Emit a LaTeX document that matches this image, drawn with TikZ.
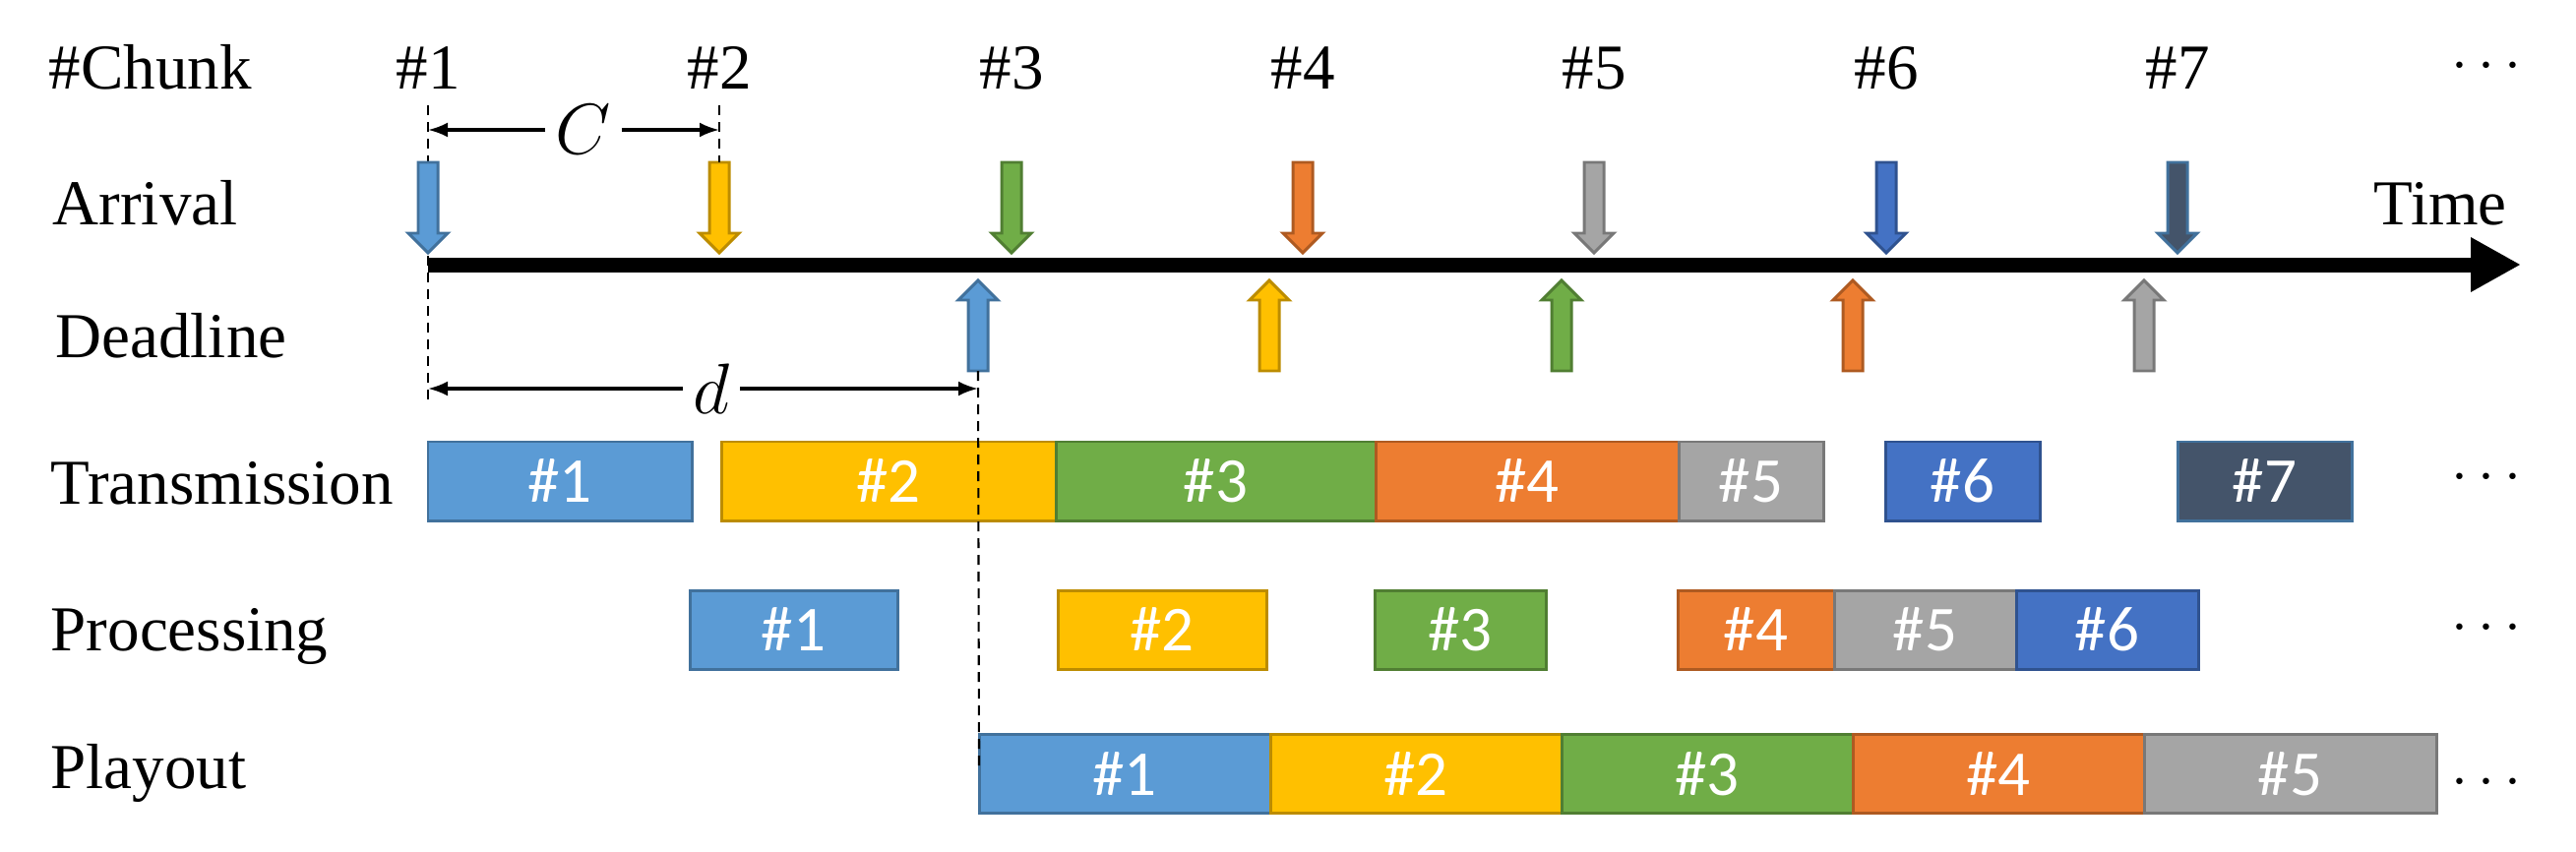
\documentclass[tikz,border=0pt]{standalone}
\usepackage{fontspec}
\setmainfont{Liberation Serif}
\newfontfamily\boxfont{Carlito}
\usetikzlibrary{arrows.meta,positioning}

\definecolor{cblue}{HTML}{5B9BD5}
\definecolor{cblueD}{HTML}{41719C}
\definecolor{cyel}{HTML}{FFC000}
\definecolor{cyelD}{HTML}{BC8C00}
\definecolor{cgreen}{HTML}{70AD47}
\definecolor{cgreenD}{HTML}{507E32}
\definecolor{corange}{HTML}{ED7D31}
\definecolor{corangeD}{HTML}{AE5A21}
\definecolor{cgray}{HTML}{A5A5A5}
\definecolor{cgrayD}{HTML}{787878}
\definecolor{cdblue}{HTML}{4472C4}
\definecolor{cdblueD}{HTML}{2F528F}
\definecolor{cslate}{HTML}{44546A}

\tikzset{
  downarr/.pic={
    \path[pic actions] (-0.1,0.46) -- (0.1,0.46) -- (0.1,-0.26) -- (0.2,-0.26) -- (0,-0.46)
      -- (-0.2,-0.26) -- (-0.1,-0.26) -- cycle;
    \coordinate (-tail) at (0,0.46);
  },
  uparr/.pic={
    \path[pic actions] (-0.1,-0.46) -- (0.1,-0.46) -- (0.1,0.26) -- (0.2,0.26) -- (0,0.46)
      -- (-0.2,0.26) -- (-0.1,0.26) -- cycle;
    \coordinate (-tail) at (0,-0.46);
  }
}

\begin{document}
\begin{tikzpicture}[font=\fontsize{18.5}{22}\selectfont,
  lbl/.style={anchor=base west, inner sep=0pt},
  num/.style={anchor=base, inner sep=0pt},
  chunkbox/.style={draw, line width=0.85pt, minimum height=0.8cm, inner sep=0pt, outer sep=0pt, text=white, font=\boxfont\fontsize{18.5}{22}\selectfont},
  blockarr/.style={line width=0.85pt, line join=miter},
  dimline/.style={line width=0.9pt, -{Latex[length=0.2cm,width=0.15cm]}},
  guide/.style={line width=0.6pt, dash pattern=on 0.1cm off 0.07cm}]
  \useasboundingbox (0,0) rectangle (26.18,-8.66);

  % row labels
  \node[lbl] (lchunk) at (0.49,-0.90) {\#Chunk};
  \node[lbl] (larr) at (0.53,-2.28) {Arrival};
  \node[lbl] (ldl) at (0.56,-3.63) {Deadline};
  \node[lbl] (ltx) at (0.51,-5.12) {Transmission};
  \node[lbl] (lproc) at (0.51,-6.615) {Processing};
  \node[lbl] (lplay) at (0.51,-8.01) {Playout};

  % chunk numbers
  \node[num] (k1) at (4.35,-0.90) {\#1};
  \node[num] (k2) at (7.31,-0.90) {\#2};
  \node[num] (k3) at (10.28,-0.90) {\#3};
  \node[num] (k4) at (13.24,-0.90) {\#4};
  \node[num] (k5) at (16.20,-0.90) {\#5};
  \node[num] (k6) at (19.17,-0.90) {\#6};
  \node[num] (k7) at (22.13,-0.90) {\#7};
  \node[num] (kdots) at (25.27,-0.81) {$\cdots$};

  % guide lines
  \coordinate (g1top) at (4.35,-1.07);
  \coordinate (g1bot) at (4.35,-4.07);
  \coordinate (g2top) at (7.31,-1.07);
  \draw[guide] (g1top) -- (g1bot);

  % time axis
  \coordinate (t0) at (4.35,-2.69);
  \coordinate (t1) at (25.62,-2.69);
  \draw[line width=0.15cm, -{Triangle[length=0.51cm,width=0.52cm]}] (t0) -- (t1);
  \node[lbl] (ltime) at (24.12,-2.28) {Time};

  % arrivals
  \pic[blockarr, fill=cblue, draw=cblueD] (a1) at (4.35,-2.11) {downarr};
  \pic[blockarr, fill=cyel, draw=cyelD] (a2) at (7.31,-2.11) {downarr};
  \pic[blockarr, fill=cgreen, draw=cgreenD] (a3) at (10.28,-2.11) {downarr};
  \pic[blockarr, fill=corange, draw=corangeD] (a4) at (13.24,-2.11) {downarr};
  \pic[blockarr, fill=cgray, draw=cgrayD] (a5) at (16.20,-2.11) {downarr};
  \pic[blockarr, fill=cdblue, draw=cdblueD] (a6) at (19.17,-2.11) {downarr};
  \pic[blockarr, fill=cslate, draw=cblueD] (a7) at (22.13,-2.11) {downarr};
  \draw[guide] (g2top) -- (a2-tail);

  % deadlines
  \pic[blockarr, fill=cblue, draw=cblueD] (d1) at (9.94,-3.31) {uparr};
  \pic[blockarr, fill=cyel, draw=cyelD] (d2) at (12.90,-3.31) {uparr};
  \pic[blockarr, fill=cgreen, draw=cgreenD] (d3) at (15.87,-3.31) {uparr};
  \pic[blockarr, fill=corange, draw=corangeD] (d4) at (18.83,-3.31) {uparr};
  \pic[blockarr, fill=cgray, draw=cgrayD] (d5) at (21.79,-3.31) {uparr};

  % C and d
  \node[inner sep=0.1cm, font=\fontsize{22}{26}\selectfont] (cC) at (5.93,-1.32) {$C$};
  \coordinate (cl) at (4.35,-1.32);
  \coordinate (cr) at (7.31,-1.32);
  \draw[dimline] (cC) -- (cl);
  \draw[dimline] (cC) -- (cr);
  \node[inner sep=0.1cm, font=\fontsize{21}{25}\selectfont] (cd) at (7.23,-3.95) {$d$};
  \coordinate (dl) at (4.35,-3.95);
  \coordinate (dr) at (9.94,-3.95);
  \draw[dimline] (cd) -- (dl);
  \draw[dimline] (cd) -- (dr);

  % transmission
  \node[chunkbox, fill=cblue, draw=cblueD, minimum width=2.68cm] (t1) at (5.69,-4.89) {\#1};
  \node[chunkbox, fill=cyel, draw=cyelD, minimum width=3.40cm] (t2) at (9.03,-4.89) {\#2};
  \node[chunkbox, fill=cgreen, draw=cgreenD, minimum width=3.25cm, right=0pt of t2] (t3) {\#3};
  \node[chunkbox, fill=corange, draw=corangeD, minimum width=3.08cm, right=0pt of t3] (t4) {\#4};
  \node[chunkbox, fill=cgray, draw=cgrayD, minimum width=1.47cm, right=0pt of t4] (t5) {\#5};
  \node[chunkbox, fill=cdblue, draw=cdblueD, minimum width=1.57cm] (t6) at (19.945,-4.89) {\#6};
  \node[chunkbox, fill=cslate, draw=cblueD, minimum width=1.77cm] (t7) at (23.015,-4.89) {\#7};
  \node[num] (tdots) at (25.27,-4.99) {$\cdots$};

  % processing
  \node[chunkbox, fill=cblue, draw=cblueD, minimum width=2.11cm] (p1) at (8.065,-6.40) {\#1};
  \node[chunkbox, fill=cyel, draw=cyelD, minimum width=2.12cm] (p2) at (11.81,-6.40) {\#2};
  \node[chunkbox, fill=cgreen, draw=cgreenD, minimum width=1.74cm] (p3) at (14.84,-6.40) {\#3};
  \node[chunkbox, fill=corange, draw=corangeD, minimum width=1.59cm] (p4) at (17.845,-6.40) {\#4};
  \node[chunkbox, fill=cgray, draw=cgrayD, minimum width=1.85cm, right=0pt of p4] (p5) {\#5};
  \node[chunkbox, fill=cdblue, draw=cdblueD, minimum width=1.85cm, right=0pt of p5] (p6) {\#6};
  \node[num] (pdots) at (25.27,-6.52) {$\cdots$};

  % playout
  \node[chunkbox, fill=cblue, draw=cblueD, minimum width=2.96cm] (l1) at (11.43,-7.865) {\#1};
  \node[chunkbox, fill=cyel, draw=cyelD, minimum width=2.96cm, right=0pt of l1] (l2) {\#2};
  \node[chunkbox, fill=cgreen, draw=cgreenD, minimum width=2.96cm, right=0pt of l2] (l3) {\#3};
  \node[chunkbox, fill=corange, draw=corangeD, minimum width=2.96cm, right=0pt of l3] (l4) {\#4};
  \node[chunkbox, fill=cgray, draw=cgrayD, minimum width=2.97cm, right=0pt of l4] (l5) {\#5};
  \node[num] (ldots) at (25.27,-8.09) {$\cdots$};

  % deadline guide down to playout
  \coordinate (g3bot) at (9.95,-7.80);
  \draw[guide] (d1-tail) -- (g3bot);
\end{tikzpicture}
\end{document}
